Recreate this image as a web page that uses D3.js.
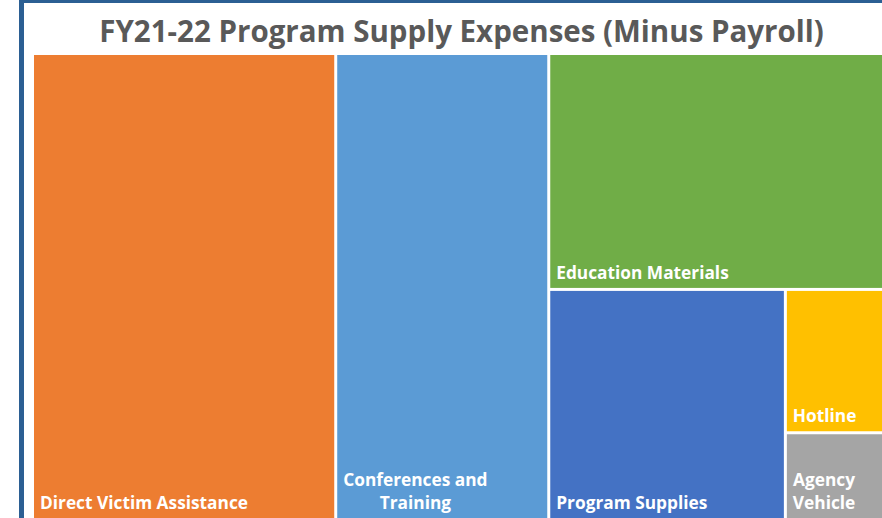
<html>
<head>
  <script src="https://d3js.org/d3.v7.min.js"></script>
  <style>
    body { margin: 0; background: #ffffff; }
  </style>
</head>
<body>

<div id="treemap"></div>

<script>

// chart data (share of program supply spending)
var title = "FY21-22 Program Supply Expenses (Minus Payroll)";
var categories = ["Direct Victim Assistance", "Conferences and Training", "Education Materials",
                  "Program Supplies", "Hotline", "Agency Vehicle"];
var values = [35.3, 24.8, 20.2, 13.6, 3.8, 2.3];
var colors = ["#ED7D31", "#5B9BD5", "#70AD47", "#4472C4", "#FFC000", "#A5A5A5"];

var width = 882, height = 518;
// the plot runs a little past the right edge of the window, like the original
var margin = {top: 55, left: 34, right: -8, bottom: 0};
var innerW = width - margin.left - margin.right;
var innerH = height - margin.top - margin.bottom;

var svg = d3.select("#treemap")
    .append("svg")
    .attr("width", width)
    .attr("height", height)
    .style("display", "block");

// blue frame round the chart area
svg.append("rect")
    .attr("x", 21.5)
    .attr("y", 0.5)
    .attr("width", 900)
    .attr("height", 540)
    .attr("fill", "none")
    .attr("stroke", "#2B5F93")
    .attr("stroke-width", 5);

svg.append("text")
    .attr("x", 461.5)
    .attr("y", 42)
    .attr("text-anchor", "middle")
    .attr("font-family", "Open Sans")
    .attr("font-weight", "bold")
    .attr("font-size", 29.5)
    .attr("fill", "#595959")
    .text(title);

// build hierarchy from the arrays
var children = categories.map(function(c, i) {
  return {name: c, value: values[i], color: colors[i]};
});

var root = d3.hierarchy({children: children})
    .sum(function(d) { return d.value; })
    .sort(function(a, b) { return b.value - a.value; });

d3.treemap()
    .tile(d3.treemapBinary)
    .size([innerW, innerH])
    .paddingInner(3)(root);

var g = svg.append("g")
    .attr("transform", "translate(" + margin.left + "," + margin.top + ")");

var cell = g.selectAll("g.cell")
    .data(root.leaves())
    .enter()
    .append("g")
    .attr("class", "cell");

cell.append("rect")
    .attr("x", function(d) { return d.x0; })
    .attr("y", function(d) { return d.y0; })
    .attr("width", function(d) { return d.x1 - d.x0; })
    .attr("height", function(d) { return d.y1 - d.y0; })
    .attr("fill", function(d) { return d.data.color; });

// labels sit at the bottom left, wrapped when they don't fit
var fontSize = 17.3, lineH = 23, pad = 6;

cell.each(function(d) {
  var sel = d3.select(this);
  var text = sel.append("text")
      .attr("font-family", "Open Sans")
      .attr("font-weight", "bold")
      .attr("font-size", fontSize)
      .attr("fill", "#ffffff")
      .attr("text-anchor", "middle");

  var maxW = (d.x1 - d.x0) - 2 * pad;
  var words = d.data.name.split(" ");
  var lines = [];
  var line = [];
  var probe = text.append("tspan");
  words.forEach(function(w) {
    line.push(w);
    probe.text(line.join(" "));
    if (probe.node().getComputedTextLength() > maxW && line.length > 1) {
      line.pop();
      lines.push(line.join(" "));
      line = [w];
    }
  });
  lines.push(line.join(" "));

  // width of the widest line, lines are centred inside that block
  var blockW = 0;
  lines.forEach(function(l) {
    probe.text(l);
    blockW = Math.max(blockW, probe.node().getComputedTextLength());
  });
  probe.remove();

  var cx = d.x0 + pad + blockW / 2;
  var lastY = d.y1 - 9;
  lines.forEach(function(l, i) {
    text.append("tspan")
        .attr("x", cx)
        .attr("y", lastY - (lines.length - 1 - i) * lineH)
        .text(l);
  });
});

</script>
</body>
</html>
